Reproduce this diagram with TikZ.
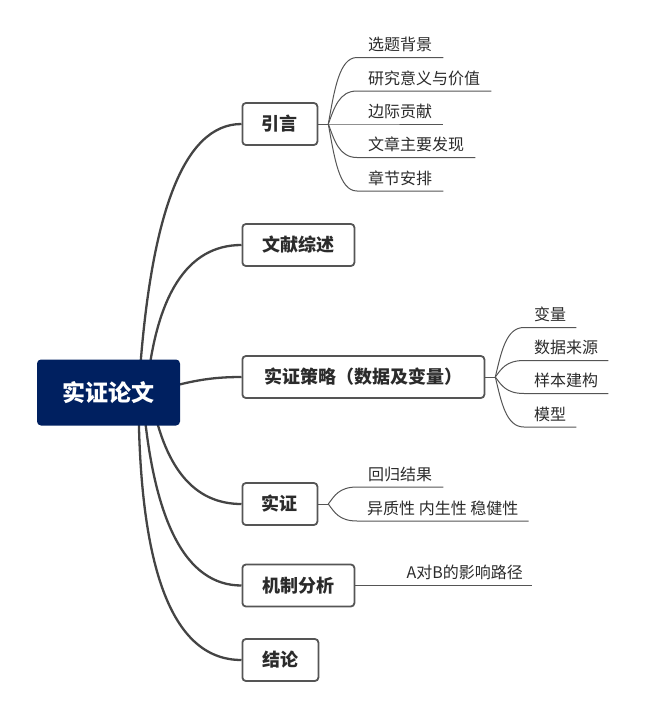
\documentclass[tikz,border=0pt]{standalone}
\usepackage{fontspec}
\newfontfamily\cjk{Noto Sans CJK SC}
\usetikzlibrary{backgrounds}
\definecolor{navy}{HTML}{002060}
\definecolor{boxgray}{HTML}{555555}
\definecolor{linegray}{HTML}{444444}
\definecolor{thingray}{HTML}{555555}
\definecolor{txt}{HTML}{2B2B2B}
\begin{document}
\begin{tikzpicture}[x=1pt,y=-1pt,
  rootbox/.style={rectangle, rounded corners=4pt, fill=navy, text=white,
    font=\cjk\bfseries\fontsize{23}{26}\selectfont, minimum width=143pt, minimum height=66pt, inner sep=0pt},
  topic/.style={rectangle, rounded corners=3.5pt, draw=boxgray, line width=1.8pt, fill=white, text=txt,
    font=\cjk\bfseries\fontsize{18}{21}\selectfont, minimum height=42pt, inner sep=0pt, anchor=west},
  leaf/.style={anchor=south west, inner xsep=11pt, inner ysep=4pt, text height=12pt, text depth=2.5pt,
    font=\cjk\fontsize{16}{19}\selectfont, text=txt},
  mainline/.style={draw=linegray, line width=2.3pt},
  subline/.style={draw=thingray, line width=1pt}]
\useasboundingbox (0,0) rectangle (662,707);

% root and topics
\node[rootbox] (root) at (108.5,392.5) {实证论文};
\node[topic, minimum width=75pt] (yin) at (241.5,124) {引言};
\node[topic, minimum width=112pt] (wx) at (241.5,245) {文献综述};
\node[topic, minimum width=242pt] (cl) at (241.5,377) {实证策略（数据及变量）};
\node[topic, minimum width=75pt] (sz) at (241.5,504) {实证};
\node[topic, minimum width=112pt] (jz) at (241.5,585.5) {机制分析};
\node[topic, minimum width=76pt] (jl) at (241.5,660) {结论};

% leaves of 引言
\node[leaf] (y1) at (357,57.5) {选题背景};
\node[leaf] (y2) at (357,91) {研究意义与价值};
\node[leaf] (y3) at (357,124) {边际贡献};
\node[leaf] (y4) at (357,157.5) {文章主要发现};
\node[leaf] (y5) at (357,191) {章节安排};
% leaves of 实证策略
\node[leaf, inner xsep=10pt] (c1) at (524,327.5) {变量};
\node[leaf, inner xsep=10pt] (c2) at (524,360.5) {数据来源};
\node[leaf, inner xsep=10pt] (c3) at (524,393.5) {样本建构};
\node[leaf, inner xsep=10pt] (c4) at (524,427) {模型};
% leaves of 实证
\node[leaf] (s1) at (357,487) {回归结果};
\node[leaf, inner xsep=10pt] (s2) at (357,521) {异质性 内生性 稳健性};
% leaf of 机制分析
\node[leaf, anchor=south east, inner xsep=9pt] (j1) at (532,585.5) {A对B的影响路径};

\coordinate (yinhub) at ([xshift=10pt]yin.east);
\coordinate (clhub) at ([xshift=10pt]cl.east);
\coordinate (szhub) at ([xshift=10pt]sz.east);

\begin{pgfonlayer}{background}
% main branches
\draw[mainline] ([xshift=30pt]root.center) .. controls +(11,-179) and +(-58,0) .. (yin.west);
\draw[mainline] ([xshift=38pt]root.center) .. controls +(9,-98) and +(-54,0) .. (wx.west);
\draw[mainline] ([xshift=42pt]root.center) .. controls +(40,-12) and +(-30,0) .. (cl.west);
\draw[mainline] ([xshift=42pt]root.center) .. controls +(13,75) and +(-48,0) .. (sz.west);
\draw[mainline] ([xshift=34pt]root.center) .. controls +(10,129) and +(-56,0) .. (jz.west);
\draw[mainline] ([xshift=30pt]root.center) .. controls +(0,170) and +(-72,0) .. (jl.west);

% sub branches 引言
\draw[subline] (yin.east) -- (yinhub);
\draw[subline] (yinhub) .. controls +(6,-33) and +(-18,0) .. (y1.south west) -- (y1.south east);
\draw[subline] (yinhub) .. controls +(6,-16) and +(-18,0) .. (y2.south west) -- (y2.south east);
\draw[subline] (yinhub) -- (y3.south west) -- (y3.south east);
\draw[subline] (yinhub) .. controls +(6,16) and +(-18,0) .. (y4.south west) -- (y4.south east);
\draw[subline] (yinhub) .. controls +(6,33) and +(-18,0) .. (y5.south west) -- (y5.south east);
% sub branches 实证策略
\draw[subline] (cl.east) -- (clhub);
\draw[subline] (clhub) .. controls +(6,-25) and +(-18,0) .. (c1.south west) -- (c1.south east);
\draw[subline] (clhub) .. controls +(6,-8) and +(-18,0) .. (c2.south west) -- (c2.south east);
\draw[subline] (clhub) .. controls +(6,8) and +(-18,0) .. (c3.south west) -- (c3.south east);
\draw[subline] (clhub) .. controls +(6,25) and +(-18,0) .. (c4.south west) -- (c4.south east);
% sub branches 实证
\draw[subline] (sz.east) -- (szhub);
\draw[subline] (szhub) .. controls +(6,-8) and +(-18,0) .. (s1.south west) -- (s1.south east);
\draw[subline] (szhub) .. controls +(6,8) and +(-18,0) .. (s2.south west) -- (s2.south east);
% 机制分析
\draw[subline] (jz.east) -- (j1.south east);
\end{pgfonlayer}
\end{tikzpicture}
\end{document}
